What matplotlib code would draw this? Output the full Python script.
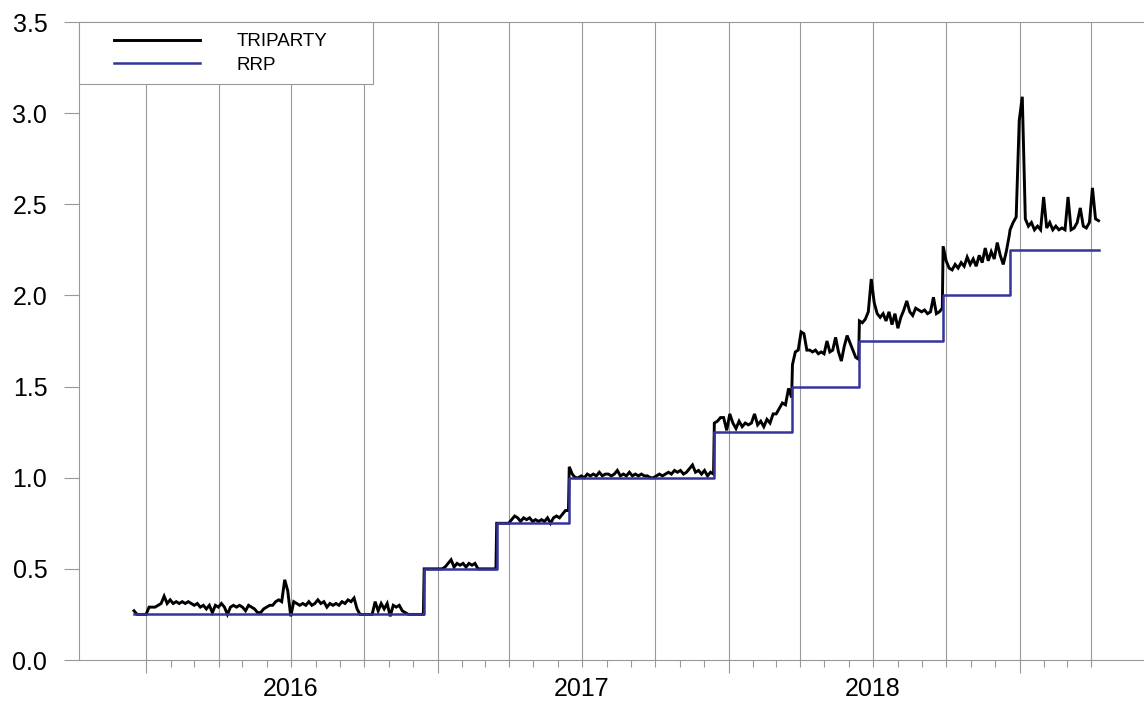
import numpy as np
import pandas as pd
import matplotlib
matplotlib.use("Agg")
import matplotlib.pyplot as plt
from matplotlib.patches import Rectangle

plt.rcParams['font.family'] = ['Liberation Sans', 'DejaVu Sans']

# RRP rate, changes on FOMC dates
rrp_dates = ['2015-12-17', '2016-12-15', '2017-03-16', '2017-06-15', '2017-12-14',
             '2018-03-22', '2018-06-14', '2018-09-27', '2018-12-20']
rrp_levels = [0.25, 0.50, 0.75, 1.00, 1.25, 1.50, 1.75, 2.00, 2.25]
last_date = '2019-04-10'

# triparty repo rate, one list per RRP regime (points spread evenly through the regime)
tp_025 = [0.27, 0.25, 0.25, 0.25, 0.25, 0.29, 0.29, 0.29, 0.30, 0.31, 0.35, 0.31, 0.33,
          0.31, 0.32, 0.31, 0.32, 0.31, 0.32, 0.31, 0.30, 0.31, 0.29, 0.30, 0.28, 0.30,
          0.26, 0.30, 0.29, 0.31, 0.29, 0.25, 0.29, 0.30, 0.29, 0.30, 0.29, 0.27, 0.30,
          0.29, 0.28, 0.26, 0.26, 0.28, 0.29, 0.30, 0.30, 0.32, 0.33, 0.32, 0.44, 0.38,
          0.24, 0.32, 0.31, 0.30, 0.31, 0.30, 0.32, 0.30, 0.31, 0.33, 0.31, 0.32, 0.29,
          0.31, 0.30, 0.31, 0.30, 0.32, 0.31, 0.33, 0.32, 0.34, 0.28, 0.25, 0.25, 0.25,
          0.25, 0.25, 0.32, 0.27, 0.31, 0.28, 0.31, 0.24, 0.30, 0.29, 0.30, 0.27, 0.26,
          0.25, 0.25, 0.25, 0.25, 0.25, 0.25]
tp_050 = [0.50, 0.50, 0.50, 0.50, 0.50, 0.50, 0.50, 0.51, 0.53, 0.55, 0.51, 0.53, 0.52,
          0.53, 0.51, 0.53, 0.52, 0.53, 0.50, 0.50, 0.50, 0.50, 0.50, 0.50, 0.50]
tp_075 = [0.75, 0.75, 0.75, 0.75, 0.75, 0.77, 0.79, 0.78, 0.76, 0.78, 0.77, 0.78, 0.76,
          0.77, 0.76, 0.77, 0.76, 0.78, 0.75, 0.78, 0.79, 0.78, 0.80, 0.82, 0.82]
tp_100 = [1.06, 1.02, 1.00, 1.00, 1.01, 1.00, 1.02, 1.01, 1.02, 1.01, 1.03, 1.01, 1.02,
          1.02, 1.01, 1.02, 1.04, 1.01, 1.02, 1.01, 1.03, 1.01, 1.02, 1.01, 1.02, 1.01,
          1.01, 1.00, 1.00, 1.01, 1.02, 1.01, 1.02, 1.03, 1.02, 1.04, 1.03, 1.04, 1.02,
          1.03, 1.05, 1.07, 1.03, 1.04, 1.02, 1.04, 1.01, 1.03, 1.02]
tp_125 = [1.30, 1.31, 1.33, 1.33, 1.26, 1.35, 1.30, 1.27, 1.31, 1.28, 1.30, 1.29, 1.30,
          1.35, 1.29, 1.31, 1.28, 1.32, 1.30, 1.35, 1.35, 1.38, 1.41, 1.40, 1.49, 1.44]
tp_150 = [1.62, 1.69, 1.70, 1.80, 1.79, 1.70, 1.70, 1.69, 1.70, 1.68, 1.69, 1.68, 1.75,
          1.69, 1.70, 1.77, 1.69, 1.64, 1.72, 1.78, 1.74, 1.70, 1.66, 1.65]
tp_175 = [1.86, 1.85, 1.87, 1.91, 2.09, 1.96, 1.90, 1.88, 1.90, 1.86, 1.91, 1.84, 1.90,
          1.82, 1.88, 1.92, 1.97, 1.91, 1.89, 1.93, 1.92, 1.91, 1.92, 1.90, 1.91, 1.99,
          1.90, 1.91, 1.93]
tp_200 = [2.27, 2.19, 2.15, 2.14, 2.17, 2.15, 2.18, 2.16, 2.21, 2.17, 2.20, 2.16, 2.22,
          2.18, 2.26, 2.19, 2.24, 2.20, 2.29, 2.22, 2.17, 2.24, 2.33]
tp_225 = [2.36, 2.40, 2.43, 2.96, 3.09, 2.42, 2.38, 2.40, 2.36, 2.38, 2.36, 2.54, 2.37,
          2.40, 2.36, 2.38, 2.36, 2.37, 2.36, 2.54, 2.36, 2.37, 2.40, 2.48, 2.38, 2.37,
          2.40, 2.59, 2.42, 2.41]
tp_segments = [tp_025, tp_050, tp_075, tp_100, tp_125, tp_150, tp_175, tp_200, tp_225]

years = [2016, 2017, 2018]

# build the triparty series
starts = [pd.Timestamp(d) for d in rrp_dates]
ends = [s - pd.Timedelta(days=1) for s in starts[1:]] + [pd.Timestamp(last_date)]
tp_dates = []
tp_vals = []
for s, e, vals in zip(starts, ends, tp_segments):
    tp_dates.extend(pd.date_range(s, e, periods=len(vals)))
    tp_vals.extend(vals)

rrp_x = starts + [pd.Timestamp(last_date)]
rrp_y = rrp_levels + [rrp_levels[-1]]

fig = plt.figure(figsize=(11.44, 7.02), dpi=100)
ax = fig.add_axes([79 / 1144, 42 / 702, 1065 / 1144, 638 / 702])

gcol = '#999999'
for q in pd.date_range('2016-01-01', '2019-04-01', freq='QS'):
    ax.axvline(q, color=gcol, lw=0.8, zorder=1)

ax.plot(tp_dates, tp_vals, color='black', lw=2.1, zorder=2, label='TRIPARTY',
        solid_joinstyle='miter')
ax.step(rrp_x, rrp_y, where='post', color='#34349c', lw=1.8, zorder=3, label='RRP')

ax.set_xlim(pd.Timestamp('2015-10-09'), pd.Timestamp('2019-06-06'))
ax.set_ylim(0, 3.5)

ax.set_yticks(np.arange(0, 3.51, 0.5))
ax.set_yticklabels([f'{v:.1f}' for v in np.arange(0, 3.51, 0.5)])
ax.tick_params(axis='y', length=10.8, width=0.8, color=gcol, pad=12, labelsize=18)

ax.set_xticks(pd.date_range('2016-01-01', '2019-01-01', freq='YS'))
ax.set_xticklabels([])
ax.set_xticks(pd.date_range('2016-01-01', '2019-04-01', freq='MS'), minor=True)
ax.tick_params(axis='x', which='major', length=9, width=0.8, color=gcol)
ax.tick_params(axis='x', which='minor', length=5, width=0.8, color=gcol)

for y in years:
    ax.text(pd.Timestamp(f'{y}-07-01'), -0.0455, str(y), transform=ax.get_xaxis_transform(),
            ha='center', va='center', fontsize=18)

for side in ['left', 'bottom', 'top']:
    ax.spines[side].set_color(gcol)
    ax.spines[side].set_linewidth(0.8)
ax.spines['right'].set_visible(False)

# legend box
ax.add_patch(Rectangle((0, 1 - 62 / 638), 294 / 1065, 62 / 638, transform=ax.transAxes,
                       facecolor='white', edgecolor=gcol, lw=0.8, zorder=4, clip_on=False))
leg = ax.legend(frameon=False, loc='upper left', bbox_to_anchor=(114 / 1144, 1 - 33 / 702),
                bbox_transform=fig.transFigure, borderpad=0, borderaxespad=0,
                handlelength=4.6, handletextpad=1.95, labelspacing=0.35, fontsize=13.5)
leg.set_zorder(5)

fig.savefig('out.png', dpi=100)
